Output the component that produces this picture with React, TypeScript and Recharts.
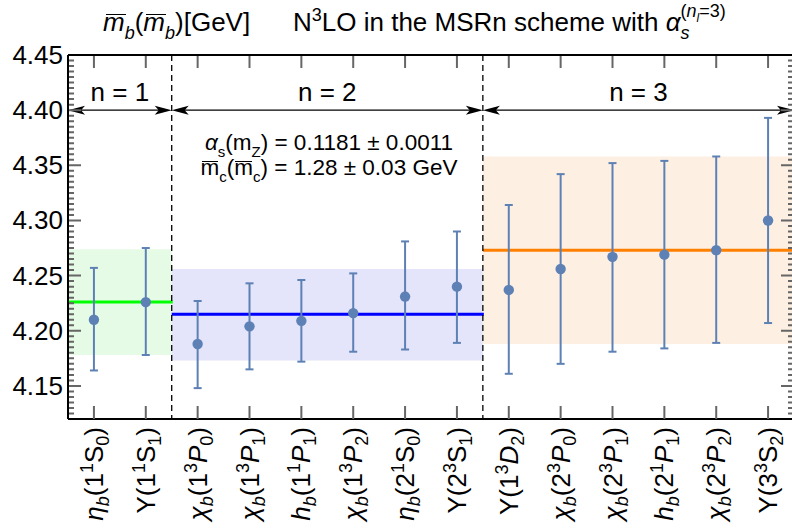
import { ComposedChart, XAxis, YAxis, Scatter, ErrorBar, ReferenceArea, ReferenceLine } from 'recharts'

// bottomonium states, markup: _x subscript, ^x superscript
const states = [
  'η_b(1^1S_0)', 'Υ(1^1S_1)', 'χ_b(1^3P_0)', 'χ_b(1^3P_1)', 'h_b(1^1P_1)', 'χ_b(1^3P_2)', 'η_b(2^1S_0)',
  'Υ(2^3S_1)', 'Υ(1^3D_2)', 'χ_b(2^3P_0)', 'χ_b(2^3P_1)', 'h_b(2^1P_1)', 'χ_b(2^3P_2)', 'Υ(3^3S_2)',
]
const mbCentral = [4.210, 4.226, 4.188, 4.204, 4.209, 4.216, 4.231, 4.240, 4.237, 4.256, 4.267, 4.269, 4.273, 4.300]
const mbUpper = [4.257, 4.275, 4.227, 4.243, 4.246, 4.252, 4.281, 4.290, 4.314, 4.342, 4.352, 4.354, 4.358, 4.393]
const mbLower = [4.164, 4.178, 4.148, 4.165, 4.172, 4.181, 4.183, 4.189, 4.161, 4.170, 4.181, 4.184, 4.189, 4.207]

// n-groups: first/last state, weighted average and band
const groupN = [1, 2, 3]
const groupFirst = [0, 2, 8]
const groupLast = [1, 7, 13]
const groupMean = [4.226, 4.215, 4.273]
const groupLow = [4.178, 4.173, 4.188]
const groupHigh = [4.274, 4.256, 4.358]
const arrowLevel = 4.40

const yLabels = [4.15, 4.20, 4.25, 4.30, 4.35, 4.40, 4.45]

const lineColors = ['#00ff00', '#0000ff', '#ff8000']
const bandColors = ['#e6fbe6', '#e4e4fa', '#fdf0e3']
const pointColor = '#5e81b5'
const tickGray = '#666666'
const FONT = '"Liberation Sans", Arial, sans-serif'

const rows = states.map((s, i) => ({
  state: s,
  mb: mbCentral[i],
  err: [mbCentral[i] - mbLower[i], mbUpper[i] - mbCentral[i]],
}))

const minorTicks: number[] = []
for (let k = 0; k <= 66; k++) minorTicks.push(+(4.12 + k * 0.005).toFixed(3))
const isMajor = (v: number) => yLabels.some(l => Math.abs(l - v) < 1e-6)

function parseLabel(s: string) {
  const out: { t: string; pos: number; it: boolean }[] = []
  for (let i = 0; i < s.length; i++) {
    const c = s[i]
    if (c === '_' || c === '^') {
      const n = s[++i]
      out.push({ t: n, pos: c === '_' ? 1 : -1, it: n === 'b' })
    } else out.push({ t: c, pos: 0, it: 'ηχhPD'.includes(c) })
  }
  return out
}

const BottomTick = ({ x, y, payload }: any) => {
  const parts = parseLabel(payload.value)
  let shift = 0
  return (
    <g>
      <path d={`M${x},${y}V${y - 13}`} stroke={tickGray} strokeWidth={2} />
      <text transform={`translate(${x + 9},${y + 8}) rotate(-90)`} textAnchor="end"
        fontSize={26} fontFamily={FONT} fill="#000">
        {parts.map((p, i) => {
          const target = p.pos === 1 ? 6 : p.pos === -1 ? -10 : 0
          const dy = target - shift
          shift = target
          return (
            <tspan key={i} dy={dy} fontStyle={p.it ? 'italic' : 'normal'}
              fontSize={p.pos ? 18 : 26}>{p.t}</tspan>
          )
        })}
      </text>
    </g>
  )
}

const LeftTick = ({ x, y, payload }: any) => (
  <text x={x - 5} y={y + 9} textAnchor="end" fontSize={26} fontFamily={FONT} fill="#000">
    {payload.value.toFixed(2)}
  </text>
)

// inward tick marks on left and right frame, drawn along a horizontal reference line
const yTickShape = (len: number) => (p: any) => {
  const l = Math.min(p.x1, p.x2), r = Math.max(p.x1, p.x2)
  return (
    <path d={`M${l},${p.y1}h${len}M${r - len},${p.y1}h${len}`} stroke={tickGray} strokeWidth={2} />
  )
}

// inward tick mark on top frame
const topTickShape = (p: any) => {
  const t = Math.min(p.y1, p.y2)
  return <path d={`M${p.x1},${t}v13`} stroke={tickGray} strokeWidth={2} />
}

const arrowShape = (n: number) => ({ x, y, width }: any) => {
  const r = x + width
  return (
    <g>
      <line x1={x + 6} x2={r - 6} y1={y} y2={y} stroke="#000" strokeWidth={1.3} />
      <polygon points={`${x},${y} ${x + 17},${y - 4.5} ${x + 13},${y} ${x + 17},${y + 4.5}`} fill="#000" />
      <polygon points={`${r},${y} ${r - 17},${y - 4.5} ${r - 13},${y} ${r - 17},${y + 4.5}`} fill="#000" />
      <text x={x + width / 2} y={y - 9} textAnchor="middle" fontSize={26} fontFamily={FONT} fill="#000">
        n = {n}
      </text>
    </g>
  )
}

const meanShape = (color: string) => ({ x, y, width }: any) => (
  <line x1={x} x2={x + width + 1} y1={y} y2={y} stroke={color} strokeWidth={3} />
)

const dividerShape = ({ x, y, width, height }: any) => (
  <g stroke="#000" strokeWidth={1.3} strokeDasharray="6 4">
    <line x1={x} x2={x} y1={y} y2={y + height} />
    <line x1={x + width} x2={x + width} y1={y} y2={y + height} />
  </g>
)

const Dot = ({ cx, cy }: any) => <circle cx={cx} cy={cy} r={5.2} fill={pointColor} />

// letter with a bar close above it
const Bar = ({ children, off, italic }: any) => (
  <span style={{ position: 'relative', fontStyle: italic ? 'italic' : 'normal' }}>
    {children}
    <span style={{ position: 'absolute', left: italic ? 3 : 1, right: italic ? -1 : 1, top: off, borderTop: '1.6px solid #000' }} />
  </span>
)
const sub = (fs: number): React.CSSProperties => ({ fontSize: fs, position: 'relative', top: fs * 0.45 })

const axisStroke = { stroke: '#000', strokeWidth: 2 }

export default function App() {
  return (
    <div style={{ position: 'fixed', left: 0, top: 0, width: 792, height: 530, overflow: 'hidden', background: '#fff', fontFamily: FONT }}>
      <ComposedChart width={796} height={530} data={rows} margin={{ top: 55, right: 2, bottom: 0, left: 0 }}>
        <XAxis xAxisId="b" dataKey="state" type="category" scale="band" interval={0} height={111}
          axisLine={axisStroke} tickLine={false} tickSize={0} tickMargin={0} tick={<BottomTick />} />
        <YAxis yAxisId="l" type="number" domain={[4.12, 4.45]} allowDataOverflow ticks={yLabels} interval={0}
          width={68} axisLine={axisStroke} tickLine={false} tickSize={0} tickMargin={0} tick={<LeftTick />} />

        {groupN.map((n, g) => (
          <ReferenceArea key={`band${n}`} xAxisId="b" yAxisId="l" x1={states[groupFirst[g]]} x2={states[groupLast[g]]}
            y1={groupLow[g]} y2={groupHigh[g]} fill={bandColors[g]} fillOpacity={1} stroke="none" />
        ))}
        {groupN.map((n, g) => (
          <ReferenceArea key={`mean${n}`} xAxisId="b" yAxisId="l" x1={states[groupFirst[g]]} x2={states[groupLast[g]]}
            y1={groupMean[g]} y2={groupMean[g]} shape={meanShape(lineColors[g])} />
        ))}
        <ReferenceArea xAxisId="b" yAxisId="l" x1={states[groupFirst[1]]} x2={states[groupLast[1]]} shape={dividerShape} />
        {groupN.map((n, g) => (
          <ReferenceArea key={`arr${n}`} xAxisId="b" yAxisId="l" x1={states[groupFirst[g]]} x2={states[groupLast[g]]}
            y1={arrowLevel} y2={arrowLevel} shape={arrowShape(n)} />
        ))}

        {minorTicks.map(v => (
          <ReferenceLine key={`yt${v}`} xAxisId="b" yAxisId="l" y={v} ifOverflow="visible" shape={yTickShape(isMajor(v) ? 13 : 6)} />
        ))}
        {states.map(s => (
          <ReferenceLine key={`xt${s}`} xAxisId="b" yAxisId="l" x={s} ifOverflow="visible" shape={topTickShape} />
        ))}
        <ReferenceLine xAxisId="b" yAxisId="l" y={4.45} ifOverflow="visible" stroke="#000" strokeWidth={2} />

        <Scatter xAxisId="b" yAxisId="l" dataKey="mb" isAnimationActive={false} shape={<Dot />}>
          <ErrorBar dataKey="err" direction="y" width={4} stroke={pointColor} strokeWidth={2} />
        </Scatter>
      </ComposedChart>

      <div style={{ position: 'absolute', left: 103, top: 9, fontSize: 26, lineHeight: '26px', whiteSpace: 'nowrap' }}>
        <Bar italic off={7}>m</Bar><i style={sub(18)}>b</i>(<Bar italic off={7}>m</Bar><i style={sub(18)}>b</i>)[GeV]
      </div>
      <div style={{ position: 'absolute', left: 293, top: 9, fontSize: 26, lineHeight: '26px', whiteSpace: 'nowrap' }}>
        N<span style={{ fontSize: 18, position: 'relative', top: -10 }}>3</span>LO in the MSRn scheme with{' '}
        <i>α</i>
        <span style={{ position: 'relative', display: 'inline-block' }}>
          <i style={sub(18)}>s</i>
          <span style={{ position: 'absolute', left: 0, top: -11, fontSize: 18, whiteSpace: 'nowrap' }}>
            (<i>n</i><i style={sub(12)}>l</i>=3)
          </span>
        </span>
      </div>

      <div style={{ position: 'absolute', left: 129, width: 400, top: 131, fontSize: 22.5, lineHeight: '23px', textAlign: 'center', whiteSpace: 'nowrap' }}>
        <div><i>α</i><span style={sub(15)}>s</span>(m<span style={sub(15)}>Z</span>) = 0.1181 ± 0.0011</div>
        <div><Bar off={6}>m</Bar><span style={sub(15)}>c</span>(<Bar off={6}>m</Bar><span style={sub(15)}>c</span>) = 1.28 ± 0.03 GeV</div>
      </div>
    </div>
  )
}
